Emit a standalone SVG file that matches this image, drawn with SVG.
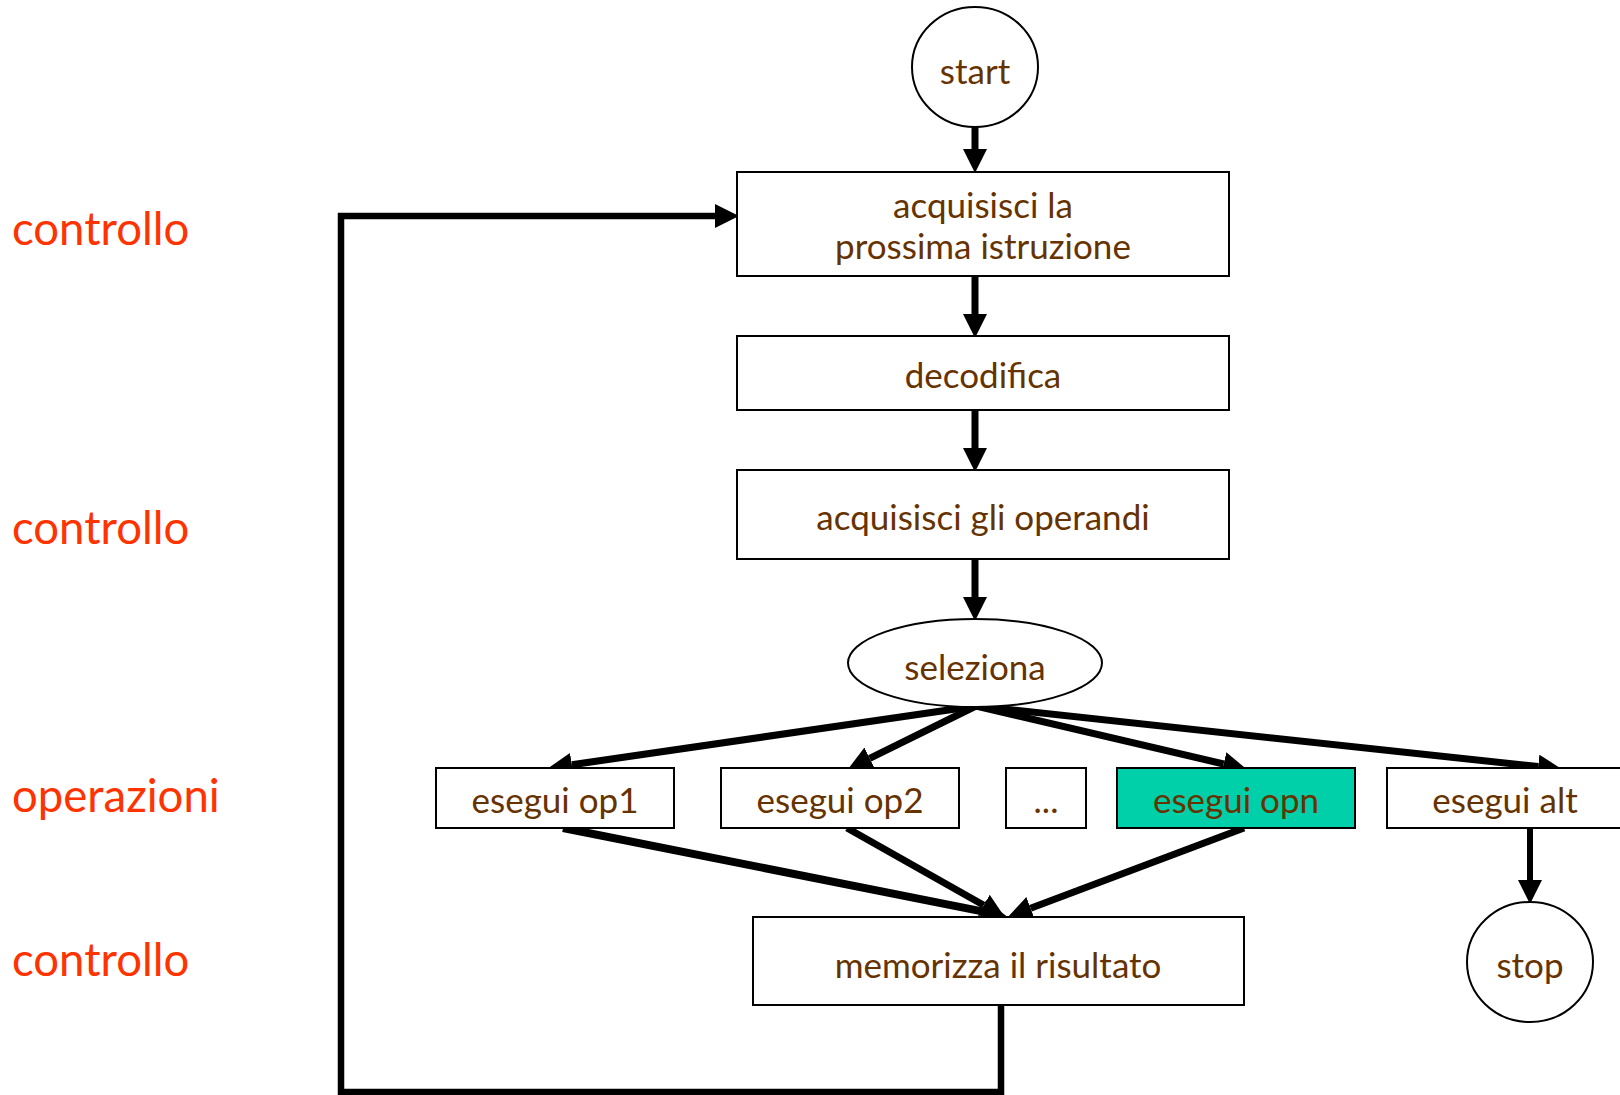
<svg xmlns="http://www.w3.org/2000/svg" width="1620" height="1095" viewBox="0 0 1620 1095">
  <style>
    .box { fill: #ffffff; stroke: #000000; stroke-width: 2; }
    .hl { fill: #00d0aa; }
    .t { font-family: Lato, "Open Sans", sans-serif; font-size: 35px; fill: #663300; text-anchor: middle; }
    .lbl { font-family: Lato, "Open Sans", sans-serif; font-size: 45.5px; fill: #ff3300; }
    .c { fill: none; stroke: #000000; stroke-linejoin: miter; }
  </style>
  <defs>
    <marker id="ah" markerUnits="userSpaceOnUse" markerWidth="24" markerHeight="24" refX="0" refY="11" orient="auto" viewBox="0 0 22 22">
      <path d="M0,0 L22,11 L0,22 z" fill="#000000"/>
    </marker>
  </defs>

  <!-- side labels -->
  <g id="labels">
    <text class="lbl" x="12" y="245">controllo</text>
    <text class="lbl" x="12" y="544">controllo</text>
    <text class="lbl" x="12" y="812">operazioni</text>
    <text class="lbl" x="12" y="976">controllo</text>
  </g>

  <!-- connectors -->
  <g id="connectors">
    <line class="c" stroke-width="7" x1="975" y1="127" x2="975" y2="149" marker-end="url(#ah)"/>
    <line class="c" stroke-width="7" x1="975" y1="276" x2="975" y2="314" marker-end="url(#ah)"/>
    <line class="c" stroke-width="7" x1="975" y1="410" x2="975" y2="448" marker-end="url(#ah)"/>
    <line class="c" stroke-width="7" x1="975" y1="559" x2="975" y2="597" marker-end="url(#ah)"/>
    <line class="c" stroke-width="7" x1="976" y1="706" x2="571.8" y2="764.8" marker-end="url(#ah)"/>
    <line class="c" stroke-width="7" x1="976" y1="706" x2="869.7" y2="758.3" marker-end="url(#ah)"/>
    <line class="c" stroke-width="7" x1="976" y1="706" x2="1223.6" y2="764" marker-end="url(#ah)"/>
    <line class="c" stroke-width="7" x1="976" y1="706" x2="1538.1" y2="766.6" marker-end="url(#ah)"/>
    <line class="c" stroke-width="8" x1="563" y1="828" x2="983.4" y2="911.7" marker-end="url(#ah)"/>
    <line class="c" stroke-width="7" x1="847" y1="828" x2="983.8" y2="905.2" marker-end="url(#ah)"/>
    <line class="c" stroke-width="7" x1="1244" y1="828" x2="1030.6" y2="908.3" marker-end="url(#ah)"/>
    <line class="c" stroke-width="6" x1="1530" y1="828" x2="1530" y2="880" marker-end="url(#ah)"/>
    <path class="c" stroke-width="6.5" d="M1001,1005 V1092 H341 V216 H715" marker-end="url(#ah)"/>
  </g>

  <g id="start">
    <ellipse class="box" cx="975" cy="67" rx="63" ry="60"/>
    <text class="t" x="975" y="84">start</text>
  </g>
  <g id="fetch">
    <rect class="box" x="737" y="172" width="492" height="104"/>
    <text class="t" x="983" y="218">acquisisci la</text>
    <text class="t" x="983" y="259">prossima istruzione</text>
  </g>
  <g id="decode">
    <rect class="box" x="737" y="336" width="492" height="74"/>
    <text class="t" x="983" y="388">decodifica</text>
  </g>
  <g id="operands">
    <rect class="box" x="737" y="470" width="492" height="89"/>
    <text class="t" x="983" y="530">acquisisci gli operandi</text>
  </g>
  <g id="select">
    <ellipse class="box" cx="975" cy="663" rx="127" ry="44"/>
    <text class="t" x="975" y="680">seleziona</text>
  </g>
  <g id="op1">
    <rect class="box" x="436" y="768" width="238" height="60"/>
    <text class="t" x="555" y="813">esegui op1</text>
  </g>
  <g id="op2">
    <rect class="box" x="721" y="768" width="238" height="60"/>
    <text class="t" x="840" y="813">esegui op2</text>
  </g>
  <g id="dots">
    <rect class="box" x="1006" y="768" width="80" height="60"/>
    <text class="t" x="1046" y="813">...</text>
  </g>
  <g id="opn">
    <rect class="box hl" x="1117" y="768" width="238" height="60"/>
    <text class="t" x="1236" y="813">esegui opn</text>
  </g>
  <g id="alt">
    <rect class="box" x="1387" y="768" width="250" height="60"/>
    <text class="t" x="1505" y="813">esegui alt</text>
  </g>
  <g id="store">
    <rect class="box" x="753" y="917" width="491" height="88"/>
    <text class="t" x="998" y="978">memorizza il risultato</text>
  </g>
  <g id="stop">
    <ellipse class="box" cx="1530" cy="962" rx="63" ry="60"/>
    <text class="t" x="1530" y="978">stop</text>
  </g>
</svg>
